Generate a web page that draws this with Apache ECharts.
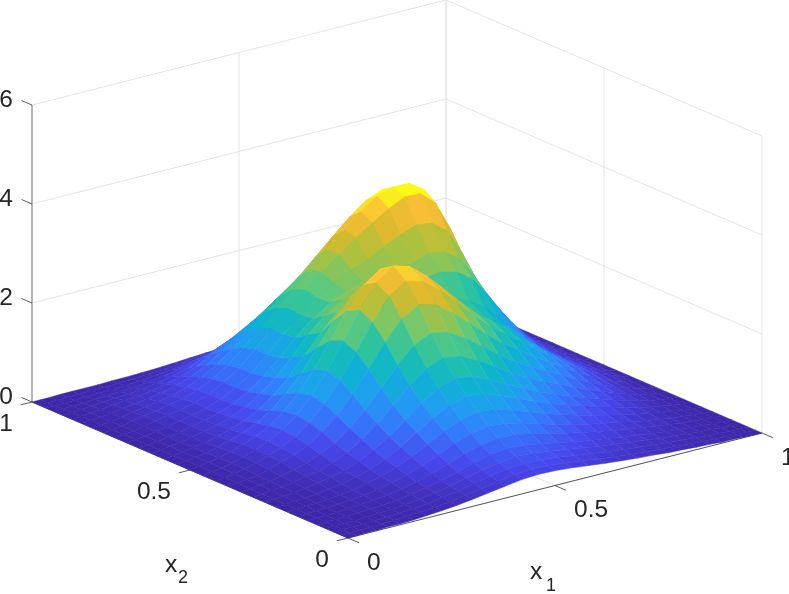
<!DOCTYPE html>
<html>
<head>
<meta charset="utf-8">
<style>
  html, body { margin: 0; padding: 0; background: #fff; }
  #main { width: 789px; height: 594px; }
</style>
<script src="https://cdn.jsdelivr.net/npm/echarts@6/dist/echarts.min.js"></script>
</head>
<body>
<div id="main"></div>
<script>
// mesh lines, same for x1 and x2
const gridValues = [0,.0211,.0444,.0698,.0973,.1268,.1582,.1914,.2262,.2624,.3,.3387,.3782,.4184,.4591,.5,.5409,.5816,.6218,.6613,.7,.7376,.7738,.8086,.8418,.8732,.9027,.9302,.9556,.9789,1];
const x1Ticks = [0, 0.5, 1];
const x2Ticks = [0, 0.5, 1];
const zTicks = [0, 2, 4, 6];

// height, one row per x2 line, one column per x1 line
const zValues = [
[0,0,.01,.01,.02,.02,.03,.05,.07,.10,.14,.19,.24,.29,.31,.30,.27,.23,.19,.16,.13,.11,.08,.07,.05,.04,.02,.02,.01,0,0],
[0,0,.01,.01,.02,.03,.04,.06,.08,.12,.17,.22,.28,.33,.36,.35,.31,.27,.22,.18,.15,.12,.10,.08,.06,.04,.03,.02,.01,0,0],
[0,0,.01,.01,.02,.03,.05,.07,.09,.14,.19,.26,.33,.39,.41,.40,.36,.31,.26,.22,.18,.15,.12,.09,.07,.05,.03,.02,.01,0,0],
[0,.01,.01,.01,.02,.04,.05,.08,.11,.16,.22,.30,.38,.44,.48,.46,.42,.36,.31,.26,.22,.18,.15,.11,.09,.06,.04,.03,.01,0,0],
[0,.01,.01,.02,.03,.05,.06,.09,.13,.19,.26,.35,.45,.53,.57,.55,.49,.43,.36,.30,.26,.21,.17,.13,.10,.07,.05,.03,.02,.01,0],
[0,.01,.01,.02,.04,.06,.08,.11,.16,.23,.32,.43,.55,.65,.70,.68,.61,.53,.45,.38,.32,.26,.21,.17,.13,.09,.06,.04,.02,.01,0],
[0,.01,.02,.03,.04,.07,.09,.14,.20,.28,.39,.53,.67,.79,.85,.82,.74,.64,.54,.46,.38,.32,.26,.20,.15,.11,.07,.05,.03,.01,0],
[0,.01,.02,.03,.05,.08,.11,.17,.24,.34,.48,.65,.83,.97,1.05,1.01,.91,.79,.67,.56,.47,.39,.32,.25,.19,.14,.09,.06,.03,.01,0],
[0,.01,.03,.04,.06,.10,.14,.20,.29,.42,.58,.79,1.00,1.18,1.28,1.23,1.11,.97,.82,.69,.58,.49,.39,.31,.23,.17,.11,.07,.04,.01,0],
[0,.02,.03,.05,.08,.12,.17,.24,.35,.50,.70,.94,1.21,1.42,1.53,1.48,1.33,1.16,.99,.83,.70,.58,.47,.37,.28,.21,.14,.08,.05,.02,0],
[0,.02,.04,.06,.09,.15,.20,.29,.42,.61,.85,1.14,1.46,1.72,1.85,1.79,1.62,1.41,1.20,1.01,.86,.72,.58,.46,.35,.26,.17,.10,.06,.02,0],
[0,.02,.04,.07,.11,.18,.25,.36,.51,.73,1.02,1.38,1.76,2.08,2.24,2.17,1.96,1.71,1.46,1.23,1.05,.88,.72,.56,.43,.31,.21,.13,.07,.02,0],
[0,.03,.05,.08,.14,.22,.30,.43,.62,.88,1.23,1.66,2.12,2.50,2.70,2.61,2.37,2.07,1.77,1.49,1.28,1.07,.87,.69,.52,.38,.25,.15,.09,.03,0],
[0,.03,.06,.09,.16,.25,.34,.49,.70,1.00,1.40,1.89,2.41,2.84,3.07,2.97,2.71,2.37,2.04,1.73,1.49,1.26,1.03,.81,.61,.45,.30,.18,.11,.03,0],
[0,.03,.06,.10,.17,.26,.36,.52,.74,1.06,1.48,2.00,2.55,3.01,3.26,3.16,2.88,2.54,2.19,1.87,1.62,1.38,1.14,.90,.68,.49,.32,.20,.11,.04,0],
[0,.03,.06,.10,.16,.25,.34,.49,.70,1.00,1.40,1.89,2.41,2.84,3.08,3.00,2.75,2.44,2.13,1.85,1.63,1.41,1.17,.93,.69,.50,.33,.20,.11,.04,0],
[0,.03,.05,.09,.14,.22,.30,.43,.61,.87,1.21,1.64,2.10,2.48,2.70,2.66,2.48,2.25,2.01,1.79,1.64,1.46,1.24,.99,.74,.52,.34,.20,.11,.04,0],
[0,.02,.05,.08,.12,.19,.26,.36,.51,.72,1.01,1.37,1.75,2.08,2.29,2.31,2.22,2.08,1.94,1.82,1.75,1.62,1.42,1.14,.84,.59,.37,.22,.12,.04,0],
[0,.02,.05,.08,.12,.18,.24,.33,.46,.65,.90,1.23,1.59,1.90,2.13,2.22,2.24,2.21,2.18,2.15,2.18,2.10,1.89,1.53,1.12,.77,.49,.28,.14,.05,0],
[0,.02,.04,.07,.11,.17,.22,.30,.41,.58,.81,1.10,1.43,1.72,1.96,2.11,2.20,2.25,2.30,2.34,2.45,2.40,2.18,1.77,1.29,.88,.55,.32,.15,.05,0],
[0,.02,.04,.08,.12,.17,.22,.29,.40,.56,.77,1.06,1.39,1.69,1.95,2.15,2.33,2.46,2.65,2.80,2.92,2.87,2.64,2.14,1.56,1.06,.66,.38,.18,.06,0],
[0,.02,.04,.08,.13,.18,.23,.30,.40,.56,.77,1.07,1.40,1.72,2.01,2.27,2.55,2.80,3.02,3.22,3.38,3.37,3.11,2.53,1.84,1.25,.78,.44,.21,.07,0],
[0,.02,.04,.09,.13,.17,.23,.28,.38,.53,.73,1.00,1.32,1.63,1.92,2.22,2.55,2.85,3.15,3.38,3.48,3.47,3.28,2.62,1.90,1.28,.80,.46,.22,.07,0],
[0,.02,.04,.07,.11,.16,.20,.25,.34,.47,.64,.89,1.17,1.45,1.72,2.01,2.33,2.65,2.95,3.20,3.33,3.30,3.08,2.47,1.79,1.21,.75,.43,.20,.06,0],
[0,.02,.03,.06,.10,.13,.17,.21,.29,.39,.54,.75,.99,1.22,1.46,1.70,1.94,2.16,2.37,2.56,2.81,2.84,2.63,2.15,1.56,1.05,.65,.37,.17,.06,0],
[0,.01,.03,.05,.08,.11,.13,.17,.23,.31,.43,.60,.79,.97,1.17,1.36,1.55,1.73,1.90,2.05,2.25,2.27,2.11,1.72,1.25,.84,.52,.30,.14,.05,0],
[0,.01,.02,.04,.06,.08,.10,.12,.17,.23,.31,.44,.58,.71,.85,.99,1.13,1.26,1.38,1.49,1.64,1.65,1.53,1.25,.91,.61,.38,.22,.10,.03,0],
[0,.01,.01,.02,.04,.05,.07,.08,.11,.15,.21,.29,.38,.47,.56,.66,.76,.85,.94,1.01,1.12,1.13,1.05,.86,.62,.42,.26,.15,.07,.02,0],
[0,0,.01,.01,.02,.03,.04,.05,.07,.10,.13,.18,.24,.30,.36,.42,.48,.54,.60,.65,.71,.72,.67,.54,.39,.27,.17,.09,.04,.01,0],
[0,0,0,.01,.01,.02,.02,.03,.04,.06,.08,.11,.15,.18,.22,.26,.30,.34,.37,.40,.44,.45,.42,.34,.25,.17,.10,.06,.03,.01,0],
[0,0,0,.01,.01,.01,.01,.02,.02,.03,.04,.06,.08,.10,.12,.15,.17,.20,.22,.25,.27,.28,.26,.21,.15,.10,.06,.04,.02,.01,0]
];

// parula, sampled at even steps
const parula = ['#3e26a8','#4746eb','#347afd','#1f9ff0','#0bb5cc','#2cc3a0','#63c97a','#a8c240','#dcb92c','#fcc038','#f9fb15'];
// height that reaches the yellow end of the colour map
const colorMax = 3.3;

// view of the box: screen position of the origin and of one unit along each axis
const origin = [348, 538];
const x1Unit = [414, -105];
const x2Unit = [-316, -136];
const zUnit = -49.5;

const zTop = zTicks[zTicks.length - 1];

function project(x1, x2, z) {
  return [
    origin[0] + x1 * x1Unit[0] + x2 * x2Unit[0],
    origin[1] + x1 * x1Unit[1] + x2 * x2Unit[1] + z * zUnit
  ];
}

// painter's order: far corner first
const cells = [];
for (let j = gridValues.length - 2; j >= 0; j--) {
  for (let i = gridValues.length - 2; i >= 0; i--) {
    cells.push([i, j]);
  }
}

// box grid lines, as pairs of 3d ends
const gridSegments = [];
zTicks.forEach(z => {
  gridSegments.push([[0, 1, z], [1, 1, z]]);
  gridSegments.push([[1, 1, z], [1, 0, z]]);
});
x1Ticks.forEach(t => {
  gridSegments.push([[t, 1, 0], [t, 1, zTop]]);
  gridSegments.push([[t, 0, 0], [t, 1, 0]]);
});
x2Ticks.forEach(t => {
  gridSegments.push([[1, t, 0], [1, t, zTop]]);
  gridSegments.push([[0, t, 0], [1, t, 0]]);
});

// axis lines and tick marks, with colour and width
const axisSegments = [];
axisSegments.push([[0, 0, 0], [1, 0, 0], '#333', 0.8]);
axisSegments.push([[0, 0, 0], [0, 1, 0], '#333', 0.8]);
axisSegments.push([[0, 1, 0], [0, 1, zTop], '#a6a6a6', 1.6]);
x1Ticks.forEach(t => axisSegments.push([[t, 0, 0], [t, -0.035, 0], '#333', 0.8]));
x2Ticks.forEach(t => axisSegments.push([[0, t, 0], [-0.027, t, 0], '#333', 0.8]));
zTicks.forEach(z => axisSegments.push([[0, 1, z], [0, 1.033, z], '#333', 0.8]));

const tickFont = '24.5px "Liberation Sans", Arial, sans-serif';
const labels = [];
zTicks.forEach(z => {
  const p = project(0, 1, z);
  labels.push([String(z), p[0] - 19, p[1] - 5, 'right']);
});
x2Ticks.forEach(t => {
  const p = project(0, t, 0);
  labels.push([String(t), p[0] - 19, p[1] + 22, 'right']);
});
x1Ticks.forEach(t => {
  const p = project(t, 0, 0);
  labels.push([String(t), p[0] + 19, p[1] + 25, 'left']);
});

function lineSeries(list, color, width) {
  return {
    type: 'custom',
    coordinateSystem: 'cartesian2d',
    silent: true,
    animation: false,
    clip: false,
    data: list.map((s, k) => [k, k]),
    renderItem: function (params, api) {
      const seg = list[params.dataIndex];
      const a = api.coord(project(seg[0][0], seg[0][1], seg[0][2]));
      const b = api.coord(project(seg[1][0], seg[1][1], seg[1][2]));
      return {
        type: 'line',
        shape: { x1: a[0], y1: a[1], x2: b[0], y2: b[1] },
        style: { stroke: seg[2] || color, lineWidth: seg[3] || width, fill: null }
      };
    }
  };
}

const option = {
  animation: false,
  backgroundColor: '#fff',
  grid: { left: 0, right: 0, top: 0, bottom: 0 },
  xAxis: { type: 'value', min: 0, max: 789, show: false },
  yAxis: { type: 'value', min: 0, max: 594, inverse: true, show: false },
  series: [
    lineSeries(gridSegments, '#e4e4e4', 1),
    lineSeries(axisSegments, '#333', 0.8),
    {
      type: 'custom',
      coordinateSystem: 'cartesian2d',
      silent: true,
      animation: false,
      clip: false,
      progressive: 0,
      data: cells,
      renderItem: function (params, api) {
        const i = cells[params.dataIndex][0];
        const j = cells[params.dataIndex][1];
        const corners = [[i, j], [i + 1, j], [i + 1, j + 1], [i, j + 1]];
        const points = corners.map(c =>
          api.coord(project(gridValues[c[0]], gridValues[c[1]], zValues[c[1]][c[0]])));
        const color = echarts.color.lerp(Math.min(1, zValues[j][i] / colorMax), parula);
        return {
          type: 'polygon',
          shape: { points: points },
          style: { fill: color, stroke: color, lineWidth: 0.5 }
        };
      }
    },
    {
      type: 'custom',
      coordinateSystem: 'cartesian2d',
      silent: true,
      animation: false,
      clip: false,
      data: labels.map((l, k) => [k, k]),
      renderItem: function (params, api) {
        const l = labels[params.dataIndex];
        const p = api.coord([l[1], l[2]]);
        return {
          type: 'text',
          style: {
            text: l[0], x: p[0], y: p[1], font: tickFont,
            fill: '#262626', align: l[3], verticalAlign: 'middle'
          }
        };
      }
    }
  ],
  graphic: [
    { type: 'text', left: 165, top: 553, silent: true,
      style: { text: 'x', font: tickFont, fill: '#262626' } },
    { type: 'text', left: 178, top: 569, silent: true,
      style: { text: '2', font: '18px "Liberation Sans", Arial, sans-serif', fill: '#262626' } },
    { type: 'text', left: 530, top: 560, silent: true,
      style: { text: 'x', font: tickFont, fill: '#262626' } },
    { type: 'text', left: 546, top: 577, silent: true,
      style: { text: '1', font: '18px "Liberation Sans", Arial, sans-serif', fill: '#262626' } }
  ]
};

const chart = echarts.init(document.getElementById('main'));
chart.setOption(option);
</script>
</body>
</html>
